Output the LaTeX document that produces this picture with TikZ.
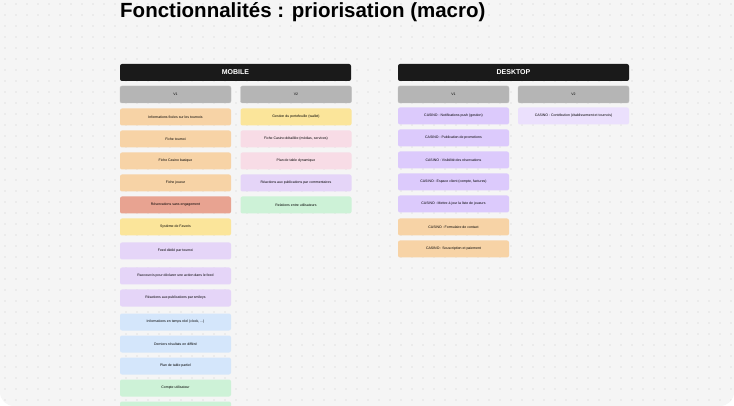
\documentclass[tikz,border=0pt]{standalone}
\usepackage{fontspec}
\setmainfont{Liberation Sans}
\usetikzlibrary{positioning}
\definecolor{bg}{HTML}{F5F5F5}
\definecolor{griddot}{HTML}{CCCCCC}
\definecolor{head}{HTML}{1A1A1A}
\definecolor{vers}{HTML}{B5B5B5}
\definecolor{cOrange}{HTML}{F7D3A6}
\definecolor{cRed}{HTML}{E8A391}
\definecolor{cYellow}{HTML}{FBE59A}
\definecolor{cPurple}{HTML}{E5D5F8}
\definecolor{cViolet}{HTML}{DCCAFC}
\definecolor{cLilac}{HTML}{EBE0FD}
\definecolor{cBlue}{HTML}{D4E6FB}
\definecolor{cGreen}{HTML}{CDF2D7}
\definecolor{cPink}{HTML}{F8DCE6}
\begin{document}
\begin{tikzpicture}[x=1pt, y=-1pt,
    every node/.style={inner sep=0pt, align=center},
    header/.style={fill=head, rounded corners=2pt, minimum width=231pt, minimum height=17pt,
      text=white, font=\fontsize{7}{8}\selectfont\bfseries},
    version/.style={fill=vers, draw=black!25, line width=0.4pt, rounded corners=2pt,
      minimum width=111pt, minimum height=17pt, font=\fontsize{3.5}{4}\selectfont},
    item/.style={fill=#1, rounded corners=2pt, minimum width=111pt, minimum height=17pt,
      font=\fontsize{3.5}{4}\selectfont}]

    \useasboundingbox (0,0) rectangle (734,406);
    \fill[white] (0,0) rectangle (734,406);
    \begin{scope}
    \clip[rounded corners=14pt] (0,-20) rectangle (734,406);
    \fill[bg] (0,-20) rectangle (734,420);
    % dot grid
    \foreach \i in {0,...,66}
      \foreach \j in {0,...,37}
        \fill[griddot] (5+11*\i, 4+11*\j) circle (0.55pt);

    \node[anchor=west, font=\fontsize{20.5}{24}\selectfont\bfseries] (title) at (120,12) {Fonctionnalités : priorisation (macro)};

    % mobile
    \node[header] (mobile) at (235.5,72.5) {MOBILE};
    \node[version] (mv1) at (175.5,94.5) {V1};
    \node[version] (mv2) at (296,94.5) {V2};
    \foreach \y/\c/\t [count=\n] in {
        117/cOrange/Informations fixées sur les tournois,
        139/cOrange/Fiche tournoi,
        161/cOrange/Fiche Casino basique,
        183/cOrange/Fiche joueur,
        205/cRed/Réservations sans engagement,
        227/cYellow/Système de Favoris,
        251/cPurple/Feed dédié par tournoi,
        276/cPurple/Raccourcis pour déclarer une action dans le feed,
        298/cPurple/Réactions aux publications par smileys,
        322/cBlue/{Informations en temps réel (clock, ...)},
        344/cBlue/Derniers résultats en différé,
        366/cBlue/Plan de table partiel,
        388/cGreen/Compte utilisateur,
        410/cGreen/{}}
      \node[item=\c] (m1-\n) at (175.5,\y) {\t};
    \foreach \y/\c/\t [count=\n] in {
        117/cYellow/Gestion du portefeuille (wallet),
        139/cPink/{Fiche Casino détaillée (médias, services)},
        161/cPink/Plan de table dynamique,
        183/cPurple/Réactions aux publications par commentaires,
        205/cGreen/Relations entre utilisateurs}
      \node[item=\c] (m2-\n) at (296,\y) {\t};

    % desktop
    \node[header] (desktop) at (513.5,72.5) {DESKTOP};
    \node[version] (dv1) at (453.5,94.5) {V1};
    \node[version] (dv2) at (573.5,94.5) {V2};
    \foreach \y/\c/\t [count=\n] in {
        116/cViolet/CASINO : Notifications push (gestion),
        138/cViolet/CASINO : Publication de promotions,
        160/cViolet/CASINO : Visibilité des réservations,
        182/cViolet/{CASINO : Espace client (compte, factures)},
        204/cViolet/CASINO : Mettre à jour la liste de joueurs,
        227/cOrange/CASINO : Formulaire de contact,
        249/cOrange/CASINO : Souscription et paiement}
      \node[item=\c] (d1-\n) at (453.5,\y) {\t};
    \node[item=cLilac] (d2-1) at (573.5,116) {CASINO : Contribution (établissement et tournois)};
    \end{scope}
\end{tikzpicture}
\end{document}
